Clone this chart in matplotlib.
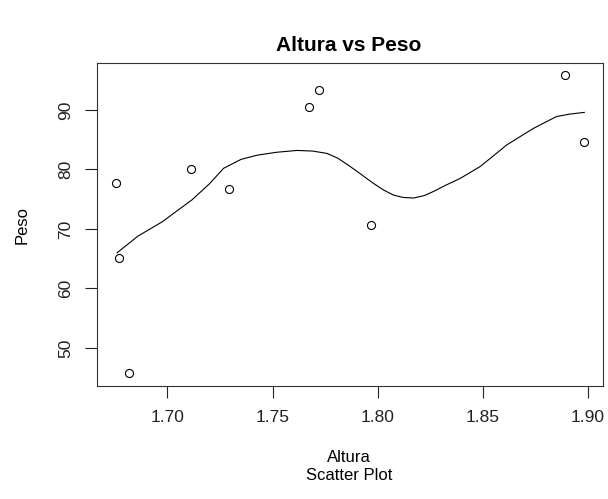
import numpy as np
import matplotlib.pyplot as plt

# Daten
altura = [1.6756, 1.6769, 1.6818, 1.7113, 1.7291, 1.7675, 1.7721, 1.7968, 1.8890, 1.8980]
peso = [77.7, 65.2, 45.8, 80.0, 76.7, 90.5, 93.3, 70.7, 95.9, 84.6]

# geglaettete Kurve
kurve_x = [1.6761, 1.6860, 1.6975, 1.7040, 1.7117, 1.7200, 1.7267, 1.7350, 1.7426,
           1.7520, 1.7616, 1.7690, 1.7759, 1.7810, 1.7869, 1.7920, 1.7978, 1.8030,
           1.8075, 1.8120, 1.8170, 1.8220, 1.8265, 1.8320, 1.8392, 1.8487, 1.8550,
           1.8612, 1.8680, 1.8740, 1.8800, 1.8850, 1.8910, 1.8982]
kurve_y = [66.0, 68.8, 71.2, 72.9, 74.9, 77.6, 80.2, 81.7, 82.4,
           82.9, 83.2, 83.1, 82.7, 81.9, 80.5, 79.2, 77.7, 76.5,
           75.7, 75.3, 75.2, 75.6, 76.3, 77.3, 78.5, 80.5, 82.3,
           84.1, 85.6, 86.9, 88.0, 88.9, 89.3, 89.6]

x_ticks = [1.70, 1.75, 1.80, 1.85, 1.90]
y_ticks = [50, 60, 70, 80, 90]

plt.rcParams['font.family'] = ['Liberation Sans', 'DejaVu Sans']

fig = plt.figure(figsize=(6.08, 4.99), dpi=100)
ax = fig.add_axes([0.1595, 0.2265, 0.8323, 0.6472])

ax.plot(altura, peso, 'o', mfc='none', mec='black', ms=5.8, mew=0.8)
ax.plot(kurve_x, kurve_y, color='black', lw=0.8)

ax.set_xlim(1.6665, 1.9071)
ax.set_ylim(43.6, 97.9)
ax.set_xticks(x_ticks)
ax.set_xticklabels([f"{v:.2f}" for v in x_ticks])
ax.set_yticks(y_ticks)
ax.set_yticklabels([str(v) for v in y_ticks], rotation=90, va='center')
ax.tick_params(length=8.4, width=0.8, labelsize=12.5, pad=9, colors='#222222')
for s in ax.spines.values():
    s.set_linewidth(0.8)
    s.set_color('#333333')

fig.text(0.574, 0.908, "Altura vs Peso", ha='center', va='center',
         fontsize=15, fontweight='bold')
fig.text(0.574, 0.066, "Altura\nScatter Plot", ha='center', va='center',
         fontsize=12, linespacing=1.25)
fig.text(0.036, 0.55, "Peso", ha='center', va='center', rotation=90, fontsize=12)

fig.savefig("out.png", dpi=100)
